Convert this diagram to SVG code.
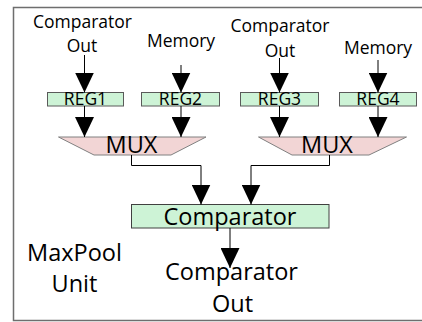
<svg xmlns="http://www.w3.org/2000/svg" width="422" height="322" viewBox="0 0 422 322">
  <defs>
    <marker id="head" markerUnits="userSpaceOnUse" markerWidth="20" markerHeight="19" viewBox="0 0 20 19" refX="20" refY="9.5" orient="auto">
      <path d="M0,0 L20,9.5 L0,19 z" fill="#000"/>
    </marker>
  </defs>
  <style>
    text { font-family: "Open Sans", "Noto Sans", "DejaVu Sans", sans-serif; fill: #000; text-anchor: middle; }
    .lbl { font-size: 17.5px; }
    .reg rect { fill: #cdf3d6; stroke: #5a5a5a; stroke-width: 1; }
    .reg text { font-size: 17.5px; }
    .mux polygon { fill: #f2d5d5; stroke: #808080; stroke-width: 1; }
    .mux text { font-size: 23.5px; }
    .big { font-size: 23.5px; }
    .wire { fill: none; stroke: #000; stroke-width: 1; marker-end: url(#head); }
  </style>

  <!-- unit border -->
  <rect x="13.5" y="7.5" width="420" height="313" fill="#fff" stroke="#6e6e6e" stroke-width="1.5"/>

  <!-- input labels -->
  <g id="in1">
    <text class="lbl" x="82.5" y="28">Comparator</text>
    <text class="lbl" x="82" y="51.5">Out</text>
  </g>
  <g id="in2">
    <text class="lbl" x="181" y="47">Memory</text>
  </g>
  <g id="in3">
    <text class="lbl" x="280" y="32">Comparator</text>
    <text class="lbl" x="280" y="56.5">Out</text>
  </g>
  <g id="in4">
    <text class="lbl" x="378" y="53.5">Memory</text>
  </g>

  <!-- registers -->
  <g id="reg1" class="reg">
    <rect x="47.5" y="92.5" width="76" height="13.5"/>
    <text x="85.5" y="105">REG1</text>
  </g>
  <g id="reg2" class="reg">
    <rect x="141.5" y="92.5" width="78" height="13.5"/>
    <text x="180.5" y="105">REG2</text>
  </g>
  <g id="reg3" class="reg">
    <rect x="240.5" y="92.5" width="78" height="13.5"/>
    <text x="279.5" y="105">REG3</text>
  </g>
  <g id="reg4" class="reg">
    <rect x="339.5" y="92.5" width="77" height="13.5"/>
    <text x="378" y="105">REG4</text>
  </g>

  <!-- multiplexers -->
  <g id="mux1" class="mux">
    <polygon points="58.5,137 206,137 171,155 94,155"/>
    <text x="131.5" y="153">MUX</text>
  </g>
  <g id="mux2" class="mux">
    <polygon points="258.5,137 406.5,137 369,155 292,155"/>
    <text x="327" y="153">MUX</text>
  </g>

  <!-- comparator -->
  <g id="comparator">
    <rect x="131.5" y="204.5" width="197.5" height="23.5" fill="#cdf3d6" stroke="#404040" stroke-width="1"/>
    <text class="big" x="230" y="224.5">Comparator</text>
  </g>

  <!-- output and unit labels -->
  <g id="out">
    <text class="big" x="231.5" y="279.5">Comparator</text>
    <text class="big" x="232.5" y="311.5">Out</text>
  </g>
  <g id="unit">
    <text class="big" x="74.5" y="261">MaxPool</text>
    <text class="big" x="74.5" y="292">Unit</text>
  </g>

  <!-- connectors -->
  <g id="connectors">
    <path class="wire" d="M84.5,55 V92.5"/>
    <path class="wire" d="M181,65 V92.5"/>
    <path class="wire" d="M279.5,58 V92.5"/>
    <path class="wire" d="M378,60 V92.5"/>
    <path class="wire" d="M84.5,106 V137"/>
    <path class="wire" d="M181,106 V137"/>
    <path class="wire" d="M279.5,106 V137"/>
    <path class="wire" d="M378,106 V137"/>
    <path class="wire" d="M131.5,155 V165.5 H201 V204.5"/>
    <path class="wire" d="M329.5,155 V165.5 H251 V204.5"/>
    <path class="wire" d="M230,228 V268"/>
  </g>
</svg>
